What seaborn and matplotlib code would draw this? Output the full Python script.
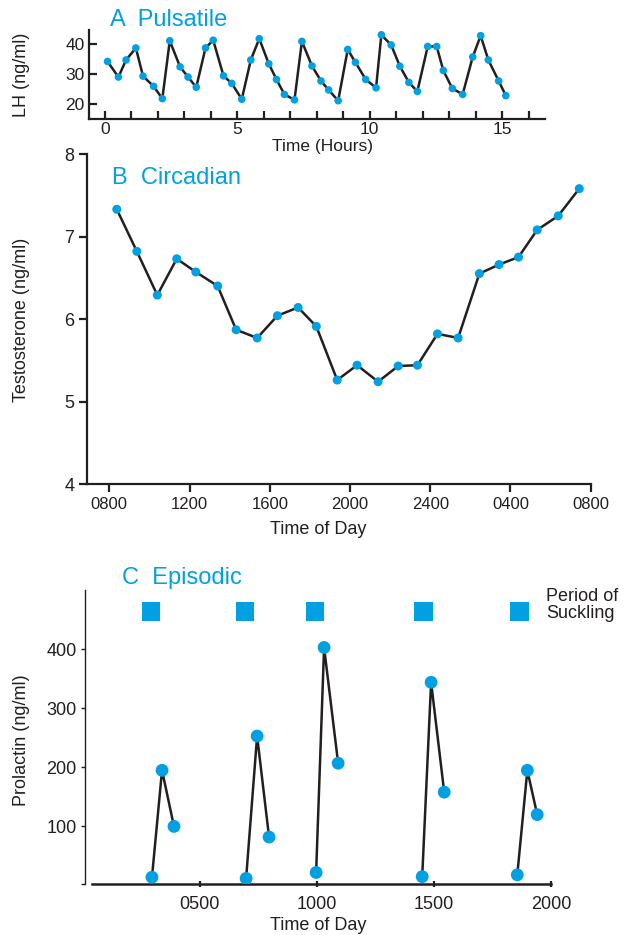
# three hormone secretion patterns: pulsatile LH, circadian testosterone, episodic prolactin
import numpy as np
import pandas as pd
import seaborn as sns
import matplotlib
matplotlib.use("Agg")
import matplotlib.pyplot as plt

# panel A - LH every ~20 min
lh_hours = [0.10, 0.51, 0.80, 1.17, 1.44, 1.84, 2.17, 2.45, 2.84, 3.14, 3.45, 3.80,
            4.09, 4.48, 4.79, 5.17, 5.51, 5.83, 6.19, 6.48, 6.78, 7.16, 7.44, 7.82,
            8.16, 8.45, 8.81, 9.17, 9.46, 9.85, 10.24, 10.44, 10.81, 11.14, 11.48, 11.80,
            12.19, 12.53, 12.78, 13.12, 13.51, 13.89, 14.19, 14.48, 14.87, 15.14]
lh_values = [34.3, 29.1, 34.8, 38.8, 29.4, 26.0, 21.9, 41.2, 32.5, 29.1, 25.7, 38.8,
             41.4, 29.5, 27.0, 21.7, 34.8, 41.9, 33.5, 28.3, 23.3, 21.5, 41.0, 32.8,
             27.8, 24.8, 21.2, 38.3, 34.0, 28.3, 25.5, 43.2, 39.8, 32.7, 27.3, 24.3,
             39.3, 39.3, 31.3, 25.3, 23.3, 35.8, 42.9, 34.8, 27.8, 22.9]

# panel B - testosterone, hours after 0800
testo_hours = [0.37, 1.37, 2.39, 3.36, 4.31, 5.40, 6.32, 7.37, 8.38, 9.41, 10.32, 11.36,
               12.35, 13.40, 14.40, 15.36, 16.36, 17.39, 18.45, 19.43, 20.40, 21.33, 22.38, 23.43]
testo_values = [7.33, 6.82, 6.29, 6.73, 6.57, 6.40, 5.87, 5.77, 6.04, 6.14, 5.91, 5.26,
                5.44, 5.24, 5.43, 5.44, 5.82, 5.77, 6.55, 6.66, 6.75, 7.08, 7.25, 7.58]
day_ticks = [0, 4, 8, 12, 16, 20, 24]
day_labels = ["0800", "1200", "1600", "2000", "2400", "0400", "0800"]

# panel C - prolactin around each suckling period (clock hours)
prl_hours = [2.96, 3.39, 3.90, 6.98, 7.45, 7.96, 9.97, 10.31, 10.91,
             14.50, 14.88, 15.44, 18.56, 18.99, 19.41]
prl_values = [14, 195, 100, 12, 253, 82, 22, 403, 207, 15, 344, 158, 18, 195, 120]
prl_episode = [1, 1, 1, 2, 2, 2, 3, 3, 3, 4, 4, 4, 5, 5, 5]
suckling_hours = [2.92, 6.94, 9.93, 14.55, 18.65]
suckling_level = 464
clock_ticks = [5, 10, 15, 20]
clock_labels = ["0500", "1000", "1500", "2000"]

BLUE = "#00a0e2"
INK = "#231f20"

sns.set_style("ticks")
plt.rcParams["font.family"] = ["Liberation Sans", "DejaVu Sans"]
plt.rcParams["text.color"] = INK
plt.rcParams["axes.labelcolor"] = INK
plt.rcParams["xtick.color"] = INK
plt.rcParams["ytick.color"] = INK
plt.rcParams["axes.edgecolor"] = INK

W, H = 624, 935
fig = plt.figure(figsize=(W / 100, H / 100), dpi=100)


def px_axes(left, top, right, bottom):
    return fig.add_axes([left / W, 1 - bottom / H, (right - left) / W, (bottom - top) / H])


def px_text(x, y, s, **kw):
    fig.text(x / W, 1 - y / H, s, **kw)


# ---- A Pulsatile
axA = px_axes(89, 30, 545, 119)
dfA = pd.DataFrame({"t": lh_hours, "v": lh_values})
sns.lineplot(data=dfA, x="t", y="v", ax=axA, color=INK, lw=1.8, zorder=2)
sns.scatterplot(data=dfA, x="t", y="v", ax=axA, color=BLUE, s=30, edgecolor="none", zorder=3)
axA.set_xlim(-0.6, 16.62)
axA.set_ylim(15.1, 44.8)
axA.set_xticks(range(17))
axA.set_xticklabels([str(i) if i % 5 == 0 else "" for i in range(17)])
axA.set_yticks([20, 30, 40])
axA.tick_params(direction="in", length=6, width=1.6, labelsize=12.5, pad=3)
axA.tick_params(axis="x", pad=2)
axA.set_xlabel("")
axA.set_ylabel("")
sns.despine(ax=axA)
for sp in ["left", "bottom"]:
    axA.spines[sp].set_linewidth(1.6)

# ---- B Circadian
axB = px_axes(86.7, 154, 590.7, 484)
dfB = pd.DataFrame({"t": testo_hours, "v": testo_values})
sns.lineplot(data=dfB, x="t", y="v", ax=axB, color=INK, lw=1.8, zorder=2)
sns.scatterplot(data=dfB, x="t", y="v", ax=axB, color=BLUE, s=42, edgecolor="none", zorder=3)
axB.set_xlim(-1.13, 24)
axB.set_ylim(4, 8)
axB.set_xticks(day_ticks)
axB.set_xticklabels(day_labels)
axB.set_yticks([4, 5, 6, 7, 8])
axB.tick_params(direction="out", length=6, width=1.6, pad=3)
axB.tick_params(axis="x", labelsize=12)
axB.tick_params(axis="y", labelsize=13)
axB.set_xlabel("")
axB.set_ylabel("")
sns.despine(ax=axB)
for sp in ["left", "bottom"]:
    axB.spines[sp].set_linewidth(1.6)

# ---- C Episodic
axC = px_axes(85, 590, 551, 884)
dfC = pd.DataFrame({"t": prl_hours, "v": prl_values, "ep": prl_episode})
sns.lineplot(data=dfC, x="t", y="v", units="ep", estimator=None, ax=axC,
             color=INK, lw=1.8, zorder=2)
sns.scatterplot(data=dfC, x="t", y="v", ax=axC, color=BLUE, s=85, edgecolor="none", zorder=3)
sns.scatterplot(x=suckling_hours, y=[suckling_level] * len(suckling_hours), ax=axC,
                color=BLUE, marker="s", s=175, edgecolor="none", zorder=3)
axC.set_xlim(0.1, 20.0)
axC.set_ylim(2.5, 500.3)
axC.set_xticks(clock_ticks)
axC.set_xticklabels(clock_labels)
axC.set_yticks([2.5, 100, 200, 300, 400])
axC.set_yticklabels(["", "100", "200", "300", "400"])
axC.tick_params(axis="x", direction="inout", length=5, width=1.6, labelsize=13, pad=6)
axC.tick_params(axis="y", direction="out", length=3, width=1.0, labelsize=13, pad=3)
axC.set_xlabel("")
axC.set_ylabel("")
sns.despine(ax=axC)
axC.spines["bottom"].set_linewidth(1.8)
axC.spines["bottom"].set_bounds(0.4, 20.0)
axC.spines["left"].set_linewidth(1.0)

# titles and labels
px_text(110, 20, "A  Pulsatile", color=BLUE, fontsize=17, va="center")
px_text(112, 178, "B  Circadian", color=BLUE, fontsize=17, va="center")
px_text(122, 578, "C  Episodic", color=BLUE, fontsize=17, va="center")
px_text(546, 605, "Period of\nSuckling", fontsize=13, va="center", linespacing=0.95)

px_text(322, 147, "Time (Hours)", fontsize=12.5, ha="center", va="center")
px_text(318, 530, "Time of Day", fontsize=13, ha="center", va="center")
px_text(318, 925, "Time of Day", fontsize=13, ha="center", va="center")
px_text(22, 75, "LH (ng/ml)", fontsize=13, rotation=90, ha="center", va="center")
px_text(22, 320, "Testosterone (ng/ml)", fontsize=13, rotation=90, ha="center", va="center")
px_text(22, 740, "Prolactin (ng/ml)", fontsize=13, rotation=90, ha="center", va="center")

fig.savefig("out.png", dpi=100)
